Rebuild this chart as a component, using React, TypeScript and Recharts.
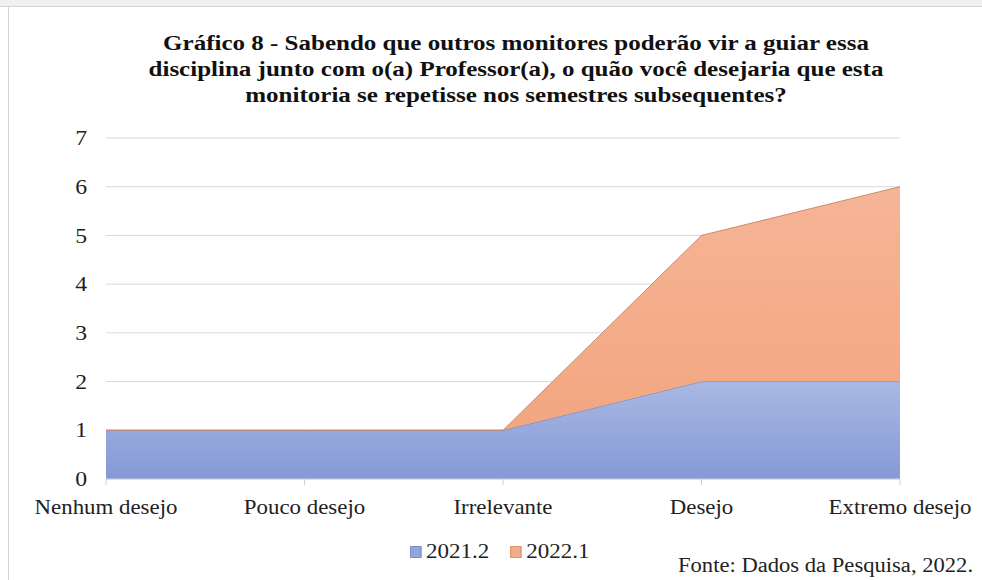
import React from "react";
import {
  AreaChart,
  Area,
  XAxis,
  YAxis,
  CartesianGrid,
} from "recharts";

const categories = [
  "Nenhum desejo",
  "Pouco desejo",
  "Irrelevante",
  "Desejo",
  "Extremo desejo",
];
const serie2021 = [1, 1, 1, 2, 2];
const serie2022 = [0, 0, 0, 3, 4];
const yTicks = [0, 1, 2, 3, 4, 5, 6, 7];

const titleLines = [
  "Gráfico 8 - Sabendo que outros monitores poderão vir a guiar essa",
  "disciplina junto com o(a) Professor(a), o quão você desejaria que esta",
  "monitoria se repetisse nos semestres subsequentes?",
];

const data = categories.map((name, i) => ({
  name,
  "2021.2": serie2021[i],
  "2022.1": serie2022[i],
}));

const serif = '"Liberation Serif", "Times New Roman", serif';
// the source image is a bit stretched sideways
const STRETCH = 1.13;

const XTick = (props: any) => {
  const { x, y, payload } = props;
  return (
    <g transform={`translate(${x},${y})`}>
      <text
        transform="scale(1.09,1)"
        textAnchor="middle"
        dy="0.71em"
        fill="#222"
        fontSize={21}
        fontFamily={serif}
      >
        {payload.value}
      </text>
    </g>
  );
};

const YTick = (props: any) => {
  const { x, y, payload } = props;
  return (
    <g transform={`translate(${x},${y})`}>
      <text
        transform={`scale(${STRETCH},1)`}
        textAnchor="end"
        dy="0.34em"
        fill="#222"
        fontSize={21}
        fontFamily={serif}
      >
        {payload.value}
      </text>
    </g>
  );
};

export default function App() {
  return (
    <div
      style={{
        position: "absolute",
        left: 0,
        top: 0,
        width: 982,
        height: 580,
        background: "#fff",
        overflow: "hidden",
        fontFamily: serif,
      }}
    >
      {/* page frame */}
      <div
        style={{
          position: "absolute",
          left: 0,
          top: 0,
          width: 982,
          height: 6,
          background: "#f0f0f0",
          borderBottom: "1px solid #d4d4d4",
        }}
      />
      <div
        style={{
          position: "absolute",
          left: 8,
          top: 7,
          width: 1,
          height: 573,
          background: "#d4d4d4",
        }}
      />

      <div
        style={{
          position: "absolute",
          left: 16,
          top: 30,
          width: 1000,
          textAlign: "center",
          fontWeight: 700,
          fontSize: 20,
          lineHeight: "26px",
          color: "#111",
          transform: "scale(1.25,1)",
          transformOrigin: "500px 0",
        }}
      >
        {titleLines.map((t) => (
          <div key={t}>{t}</div>
        ))}
      </div>

      <AreaChart
        width={982}
        height={580}
        data={data}
        margin={{ top: 138, right: 82, bottom: 61, left: 46 }}
      >
        <defs>
          <linearGradient id="gBlue" x1="0" y1="0" x2="0" y2="1">
            <stop offset="0%" stopColor="#a9b8e3" />
            <stop offset="100%" stopColor="#8499d6" />
          </linearGradient>
          <linearGradient id="gOrange" x1="0" y1="0" x2="0" y2="1">
            <stop offset="0%" stopColor="#f6b597" />
            <stop offset="100%" stopColor="#f2a680" />
          </linearGradient>
        </defs>
        <CartesianGrid vertical={false} stroke="#d9d9d9" />
        <XAxis
          dataKey="name"
          height={40}
          stroke="#d0d0d0"
          tickSize={6}
          tickMargin={14}
          tick={<XTick />}
          interval={0}
        />
        <YAxis
          width={60}
          domain={[0, 7]}
          ticks={yTicks}
          axisLine={false}
          tickLine={false}
          tickSize={0}
          tickMargin={19}
          tick={<YTick />}
        />
        <Area
          type="linear"
          dataKey="2021.2"
          stackId="a"
          stroke="#6f86c2"
          strokeWidth={1}
          fill="url(#gBlue)"
          fillOpacity={1}
          isAnimationActive={false}
        />
        <Area
          type="linear"
          dataKey="2022.1"
          stackId="a"
          stroke="#c98b6d"
          strokeWidth={1}
          fill="url(#gOrange)"
          fillOpacity={1}
          isAnimationActive={false}
        />
      </AreaChart>

      {/* legend */}
      <div
        style={{
          position: "absolute",
          left: 410,
          top: 540,
          display: "flex",
          alignItems: "center",
          fontSize: 20,
          color: "#222",
          transform: "scale(1.15,1)",
          transformOrigin: "0 0",
        }}
      >
        <span
          style={{
            width: 8,
            height: 10,
            background: "#93a6dc",
            border: "1px solid #7a90cc",
            marginRight: 4,
          }}
        />
        <span style={{ marginRight: 18 }}>2021.2</span>
        <span
          style={{
            width: 8,
            height: 10,
            background: "#f4ad8a",
            border: "1px solid #dd9570",
            marginRight: 4,
          }}
        />
        <span>2022.1</span>
      </div>

      <div
        style={{
          position: "absolute",
          left: 678,
          top: 554,
          fontSize: 20,
          color: "#222",
          whiteSpace: "nowrap",
          transform: `scale(${STRETCH},1)`,
          transformOrigin: "0 0",
        }}
      >
        Fonte: Dados da Pesquisa, 2022.
      </div>
    </div>
  );
}
